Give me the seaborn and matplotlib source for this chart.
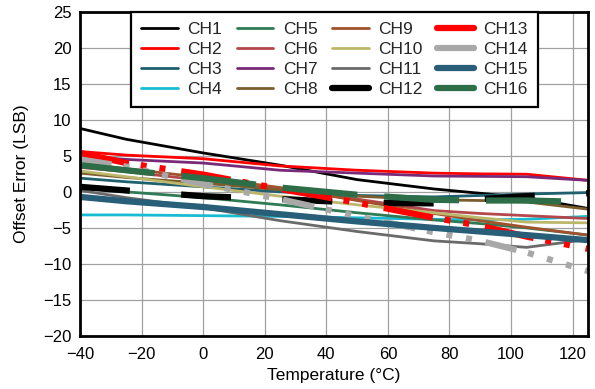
import matplotlib
matplotlib.use("Agg")
import matplotlib.pyplot as plt
from matplotlib.lines import Line2D
import seaborn as sns
import pandas as pd

# Measurement temperatures (°C)
temps = [-40, -25, 0, 25, 50, 75, 90, 105, 125]

channels = [f"CH{i}" for i in range(1, 17)]

# Offset error (LSB) per channel at each temperature
ch1 = [8.8, 7.3, 5.4, 3.7, 1.7, 0.4, -0.2, -0.8, -2.3]
ch2 = [5.6, 5.1, 4.6, 3.6, 3.0, 2.6, 2.5, 2.45, 1.6]
ch3 = [1.9, 1.4, 0.7, 0.0, -0.5, -0.7, -0.5, -0.3, -0.1]
ch4 = [-3.2, -3.2, -3.3, -3.4, -3.6, -3.8, -3.9, -3.8, -3.4]
ch5 = [0.5, 0.0, -0.8, -1.8, -2.9, -3.9, -4.4, -5.0, -6.0]
ch6 = [3.4, 2.8, 1.6, 0.3, -1.0, -2.6, -3.0, -3.3, -3.7]
ch7 = [5.0, 4.5, 4.0, 3.0, 2.6, 2.2, 2.15, 2.1, 1.6]
ch8 = [2.6, 2.0, 1.2, 0.3, -0.6, -1.1, -1.2, -1.4, -2.4]
ch9 = [3.9, 3.2, 2.0, 0.6, -1.2, -3.0, -4.0, -4.9, -6.0]
ch10 = [2.9, 2.1, 0.7, -0.6, -1.8, -2.9, -3.6, -4.2, -4.3]
ch11 = [0.2, -0.8, -2.2, -4.0, -5.5, -6.8, -7.2, -7.7, -6.6]
ch12 = [0.7, 0.2, -0.6, -1.0, -1.5, -1.6, -1.0, -0.6, -0.2]
ch13 = [5.4, 4.0, 2.4, 0.4, -1.5, -3.6, -4.7, -6.2, -7.9]
ch14 = [4.5, 3.5, 1.1, -1.0, -3.4, -5.6, -6.8, -8.4, -11.0]
ch15 = [-0.7, -1.3, -2.1, -3.1, -4.1, -5.0, -5.5, -6.0, -6.7]
ch16 = [3.7, 3.0, 1.9, 0.6, -0.4, -1.1, -1.2, -1.2, -1.4]

series = [ch1, ch2, ch3, ch4, ch5, ch6, ch7, ch8,
          ch9, ch10, ch11, ch12, ch13, ch14, ch15, ch16]

x_ticks = [-40, -20, 0, 20, 40, 60, 80, 100, 120]
y_ticks = [-20, -15, -10, -5, 0, 5, 10, 15, 20, 25]

colors = {
    "CH1": "#000000", "CH2": "#FF0000", "CH3": "#1F5F6E", "CH4": "#17BCD2",
    "CH5": "#2E7B55", "CH6": "#B3474B", "CH7": "#782A78", "CH8": "#7C5E2E",
    "CH9": "#A0522D", "CH10": "#BDB76B", "CH11": "#6A6A6A", "CH12": "#000000",
    "CH13": "#FF0000", "CH14": "#A8A8A8", "CH15": "#285E78", "CH16": "#2D6E48",
}

thin, thick = 2.0, 4.5
widths = {c: (thick if i >= 11 else thin) for i, c in enumerate(channels)}

# dash patterns in points (not scaled by line width)
dashes = {c: "" for c in channels}
dashes["CH12"] = (36, 37)
dashes["CH13"] = (36, 8.6, 4.3, 9.4, 4.3, 11.5)
dashes["CH14"] = (23, 8.6, 4.3, 10, 4.3, 10, 4.3, 10)
dashes["CH16"] = (54, 19.4)

df = pd.DataFrame({
    "Temperature": temps * len(channels),
    "Offset": [v for s in series for v in s],
    "Channel": [c for c in channels for _ in temps],
})

sns.set_style("white")
plt.rcParams["font.family"] = ["Liberation Sans", "DejaVu Sans"]
plt.rcParams["lines.scale_dashes"] = False

fig = plt.figure(figsize=(5.95, 3.89), dpi=100)
ax = fig.add_axes([80 / 595, 1 - 336 / 389, 508 / 595, 324.3 / 389])

sns.lineplot(data=df, x="Temperature", y="Offset", hue="Channel",
             style="Channel", size="Channel", hue_order=channels,
             style_order=channels, size_order=channels,
             palette=colors, dashes=dashes, sizes=widths,
             errorbar=None, sort=False, legend=False, ax=ax)

ax.set_xlim(-40, 125)
ax.set_ylim(-20, 25)
ax.set_xticks(x_ticks)
ax.set_yticks(y_ticks)
ax.grid(True, color="#A0A0A0", linewidth=0.9)
ax.set_axisbelow(True)
for sp in ax.spines.values():
    sp.set_visible(True)
    sp.set_color("black")
    sp.set_linewidth(2.0)
ax.tick_params(axis="both", length=0, labelsize=12, colors="black")
ax.tick_params(axis="x", pad=8)
ax.tick_params(axis="y", pad=6)
ax.set_xlabel("Temperature (°C)", fontsize=12.5, labelpad=4, color="black")
ax.set_ylabel("Offset Error (LSB)", fontsize=12.5, labelpad=10, color="black")

handles = [Line2D([], [], color=colors[c], linewidth=widths[c]) for c in channels]
leg = ax.legend(handles, channels, ncol=4, loc="upper left",
                bbox_to_anchor=(0.1, 1.0), borderaxespad=0,
                fontsize=12.5, handlelength=2.1, handletextpad=0.55,
                columnspacing=0.85, labelspacing=0.27, borderpad=0.6,
                frameon=True, fancybox=False, framealpha=1)
leg.get_frame().set_edgecolor("black")
leg.get_frame().set_linewidth(1.6)

fig.savefig("out.png", dpi=100)
